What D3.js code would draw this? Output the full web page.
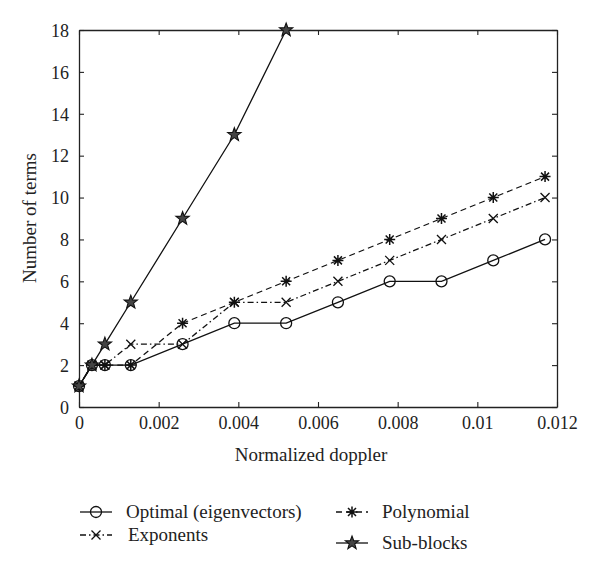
<!DOCTYPE html>
<html><head><meta charset="utf-8">
<script src="https://cdn.jsdelivr.net/npm/d3@7"></script>
<style>body{margin:0;background:#fff}svg{display:block}text{font-family:"Liberation Serif","DejaVu Serif",serif;fill:#222}</style>
</head><body><svg id="c" width="600" height="574"></svg>
<script>
const xValues = [0, 0.000325, 0.00065, 0.0013, 0.0026, 0.0039, 0.0052, 0.0065, 0.0078, 0.0091, 0.0104, 0.0117];
const optimal = [1, 2, 2, 2, 3, 4, 4, 5, 6, 6, 7, 8];
const exponents = [1, 2, 2, 3, 3, 5, 5, 6, 7, 8, 9, 10];
const polynomial = [1, 2, 2, 2, 4, 5, 6, 7, 8, 9, 10, 11];
const subBlocks = [1, 2, 3, 5, 9, 13, 18];
const xTicks = [0, 0.002, 0.004, 0.006, 0.008, 0.01, 0.012];
const xTickLabels = ["0", "0.002", "0.004", "0.006", "0.008", "0.01", "0.012"];
const yTicks = [0, 2, 4, 6, 8, 10, 12, 14, 16, 18];
const seriesNames = ["Optimal (eigenvectors)", "Exponents", "Polynomial", "Sub-blocks"];

const svg = d3.select("#c");
const L = 79, R = 557, T = 30, B = 407;
const x = d3.scaleLinear().domain([0, 0.012]).range([L, R]);
const y = d3.scaleLinear().domain([0, 18]).range([B, T]);

const series = [
  {name: seriesNames[0], vals: optimal, dash: null, marker: "circle"},
  {name: seriesNames[1], vals: exponents, dash: "6,3,1.5,3", marker: "x"},
  {name: seriesNames[2], vals: polynomial, dash: "6,4", marker: "asterisk"},
  {name: seriesNames[3], vals: subBlocks, dash: null, marker: "star"}
];

// axes
const gx = svg.append("g").attr("transform", `translate(0,${B})`)
  .call(d3.axisBottom(x).tickValues(xTicks).tickFormat((d,i)=>xTickLabels[i]).tickSizeInner(-5).tickSizeOuter(0).tickPadding(9));
const gxTop = svg.append("g").attr("transform", `translate(0,${T})`)
  .call(d3.axisTop(x).tickValues(xTicks).tickFormat("").tickSizeInner(-5).tickSizeOuter(0));
const gy = svg.append("g").attr("transform", `translate(${L},0)`)
  .call(d3.axisLeft(y).tickValues(yTicks).tickSizeInner(-5).tickSizeOuter(0).tickPadding(10));
const gyR = svg.append("g").attr("transform", `translate(${R},0)`)
  .call(d3.axisRight(y).tickValues(yTicks).tickFormat("").tickSizeInner(-5).tickSizeOuter(0));
[gx, gxTop, gy, gyR].forEach(g => {
  g.select(".domain").attr("stroke", "#222").attr("stroke-width", 1.3);
  g.selectAll(".tick line").attr("stroke", "#222").attr("stroke-width", 1.1);
  g.selectAll(".tick text").attr("font-size", 18).attr("font-family", '"Liberation Serif",serif').attr("fill", "#222");
});
gy.selectAll(".tick text").attr("dy", "0.35em");

svg.append("text").attr("x", 311).attr("y", 461).attr("text-anchor", "middle").attr("font-size", 19).text("Normalized doppler");
svg.append("text").attr("transform", `translate(36,218) rotate(-90)`).attr("text-anchor", "middle").attr("font-size", 19).text("Number of terms");

function drawMarker(g, type, cx, cy) {
  const s = "#111";
  if (type === "circle") {
    g.append("circle").attr("cx", cx).attr("cy", cy).attr("r", 5.5).attr("fill", "none").attr("stroke", s).attr("stroke-width", 1.3);
  } else if (type === "x") {
    const r = 4.5;
    g.append("path").attr("d", `M${cx-r},${cy-r}L${cx+r},${cy+r}M${cx-r},${cy+r}L${cx+r},${cy-r}`).attr("stroke", s).attr("stroke-width", 1.3);
  } else if (type === "asterisk") {
    const r = 5.5, d = 4;
    g.append("path").attr("d", `M${cx-r},${cy}L${cx+r},${cy}M${cx},${cy-r}L${cx},${cy+r}M${cx-d},${cy-d}L${cx+d},${cy+d}M${cx-d},${cy+d}L${cx+d},${cy-d}`).attr("stroke", s).attr("stroke-width", 1.5);
  } else if (type === "star") {
    const pts = [];
    for (let k = 0; k < 10; k++) {
      const a = -Math.PI / 2 + k * Math.PI / 5;
      const rr = k % 2 === 0 ? 7 : 2.9;
      pts.push([cx + rr * Math.cos(a), cy + rr * Math.sin(a)]);
    }
    g.append("path").attr("d", "M" + pts.map(p => p.join(",")).join("L") + "Z").attr("fill", "#444").attr("stroke", s).attr("stroke-width", 1.1);
  }
}

const line = d3.line().x(d => x(d[0])).y(d => y(d[1]));
series.forEach(sr => {
  const data = sr.vals.map((v, i) => [xValues[i], v]);
  const g = svg.append("g");
  g.append("path").attr("d", line(data)).attr("fill", "none").attr("stroke", "#111").attr("stroke-width", 1.3)
    .attr("stroke-dasharray", sr.dash);
  data.forEach(d => drawMarker(g, sr.marker, x(d[0]), y(d[1])));
});

// legend
const legendPos = [
  {lx: 80, ly: 512, tx: 126},
  {lx: 80, ly: 535, tx: 128},
  {lx: 336, ly: 512, tx: 382},
  {lx: 336, ly: 543, tx: 382}
];
series.forEach((sr, i) => {
  const p = legendPos[i];
  const g = svg.append("g");
  g.append("line").attr("x1", p.lx).attr("x2", p.lx + 32).attr("y1", p.ly).attr("y2", p.ly)
    .attr("stroke", "#111").attr("stroke-width", 1.3).attr("stroke-dasharray", sr.dash);
  drawMarker(g, sr.marker, p.lx + 16, p.ly);
  g.append("text").attr("x", p.tx).attr("y", p.ly).attr("dy", "0.33em").attr("font-size", 19).text(sr.name);
});
</script></body></html>
